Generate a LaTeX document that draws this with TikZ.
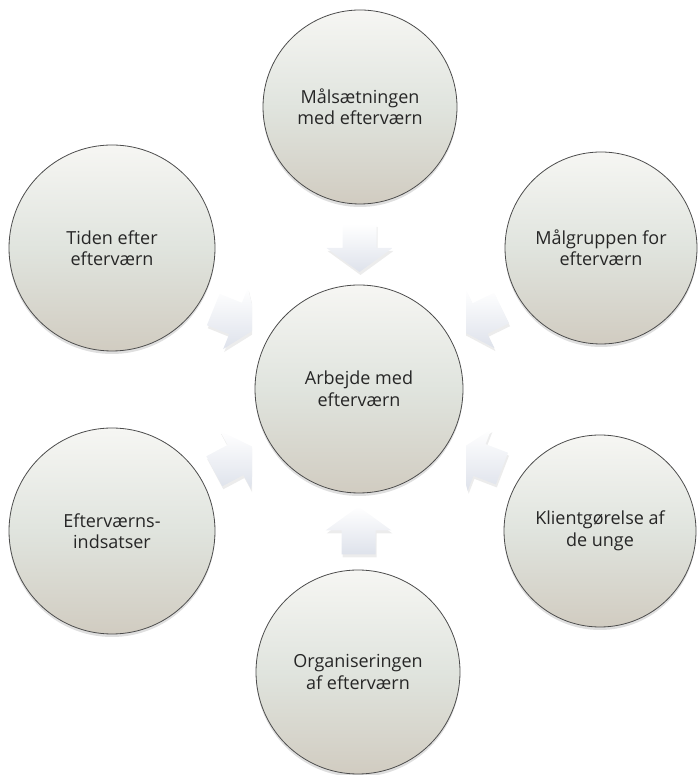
\documentclass[tikz,border=0pt]{standalone}
\usepackage{fontspec}
\setmainfont{Open Sans}
\usetikzlibrary{
  calc,
  shadows
}
\definecolor{circtop}{RGB}{246,246,243}
\definecolor{circmid}{RGB}{224,228,222}
\definecolor{circbot}{RGB}{209,204,193}
\definecolor{arrowbot}{RGB}{222,226,235}

\begin{document}
\begin{tikzpicture}[
      x=1pt, y=1pt,
      topic/.style={
         circle,
         inner sep=0pt,
         draw=black!70,
         line width=0.8pt,
         top color=circtop,
         bottom color=circbot,
         middle color=circmid,
         drop shadow={shadow xshift=0pt, shadow yshift=-3pt, opacity=0.25},
         align=center,
         text=black!85,
         font=\fontsize{18}{21.5}\selectfont
      },
      hub/.style={topic, minimum size=208pt},
      arrow fill/.style={
         top color=white,
         bottom color=arrowbot,
         drop shadow={shadow xshift=1pt, shadow yshift=-3pt, opacity=0.15}
      },
      inarrow/.pic={
         \path[arrow fill] (-24,-17) -- (0,-17) -- (0,-33) -- (24,0)
            -- (0,33) -- (0,17) -- (-24,17) -- cycle;
      }
    ]
    \useasboundingbox (0,0) rectangle (697,775);
    % centre and the six topics round it
    \node (n0) [hub] at (359,386) {Arbejde med\\efterværn};
    \node (n1) [topic, minimum size=194pt] at (360,668) {Målsætningen\\med efterværn};
    \node (n2) [topic, minimum size=192pt] at (601,527) {Målgruppen for\\efterværn};
    \node (n3) [topic, minimum size=192pt] at (600,244) {Klientgørelse af\\de unge};
    \node (n4) [topic, minimum size=204pt] at (358,103) {Organiseringen\\af efterværn};
    \node (n5) [topic, minimum size=206pt] at (112,244) {Efterværns-\\indsatser};
    \node (n6) [topic, minimum size=206pt] at (112,527) {Tiden efter\\efterværn};
    % converging arrows
    \pic[rotate=-90] at ($(n1)!0.5!(n0)$) {inarrow};
    \pic[rotate=90] at ($(n4)!0.5!(n0)$) {inarrow};
    \begin{scope}
       \clip (0,0) rectangle (252,775);
       \pic[rotate=-22] at ($(n6)!0.5!(n0)$) {inarrow};
       \pic[rotate=28] at ($(n5)!0.5!(n0)$) {inarrow};
    \end{scope}
    \begin{scope}
       \clip (466,0) rectangle (697,775);
       \pic[rotate=206] at ($(n2)!0.5!(n0)$) {inarrow};
       \pic[rotate=159] at ($(n3)!0.5!(n0)$) {inarrow};
    \end{scope}
\end{tikzpicture}
\end{document}
